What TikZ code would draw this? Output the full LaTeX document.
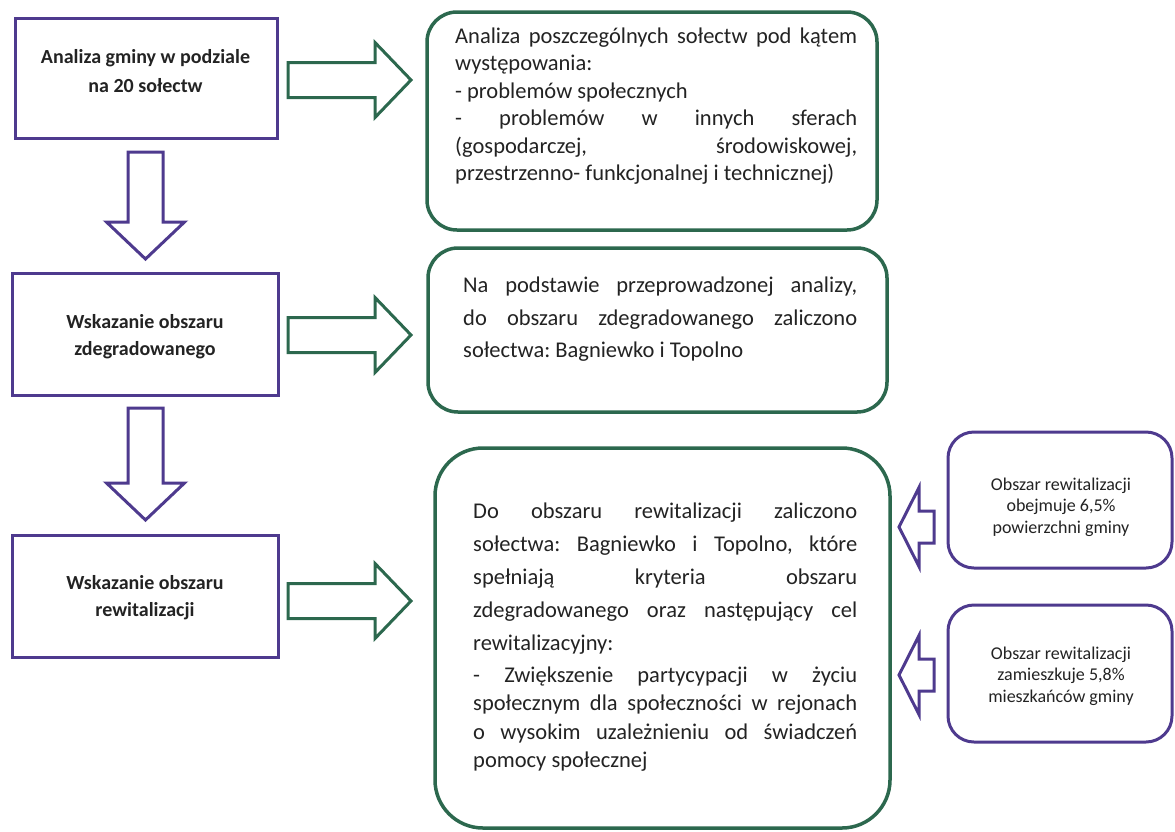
\documentclass[tikz,border=0pt]{standalone}
\usepackage{fontspec}
\setmainfont{Carlito}
\frenchspacing
\definecolor{purp}{RGB}{78,58,142}
\definecolor{grn}{RGB}{44,104,78}
\definecolor{txtc}{RGB}{35,35,35}
\newdimen\linew
\newcommand\JL[1]{\hbox to \linew{\spaceskip=\fontdimen2\font plus 1fil\relax #1}}
\newcommand\LL[1]{\hbox{#1}}
\newcommand\CL[1]{\hbox to \linew{\hfil#1\hfil}}
\begin{document}
\begin{tikzpicture}[x=1pt,y=-1pt,
  pbox/.style={draw=purp,line width=3pt,inner sep=0pt,fill=white},
  gbox/.style={draw=grn,line width=3.5pt,inner sep=0pt,fill=white},
  lefttxt/.style={inner sep=0pt,text=txtc,anchor=base,font={\bfseries\fontsize{20pt}{27.5pt}\selectfont}},
  gtxt/.style={inner sep=0pt,text=txtc,anchor=base west,font={\fontsize{22.5pt}{27.4pt}\selectfont}},
  ptxt/.style={inner sep=0pt,text=txtc,anchor=base,font={\fontsize{18pt}{21.5pt}\selectfont}},
  garrow/.style={draw=grn,line width=3pt,line join=miter,fill=white},
  parrow/.style={draw=purp,line width=3pt,line join=miter,fill=white},
  pics/rarrow/.style={code={\draw[garrow] (0,-17.5) -- (87,-17.5) -- (87,-37.5) -- (123,0) -- (87,37.5) -- (87,17.5) -- (0,17.5) -- cycle;}},
  pics/darrow/.style 2 args={code={\draw[parrow] (-17.5,0) -- (-17.5,#1) -- (-39,#1) -- (0,#2) -- (39,#1) -- (17.5,#1) -- (17.5,0) -- cycle;}},
  pics/larrow/.style={code={\draw[parrow] (35,-16) -- (20,-16) -- (20,-39.5) -- (0,0) -- (20,39.5) -- (20,16) -- (35,16) -- cycle;}}
]
\useasboundingbox (0,0) rectangle (1175,831);

% left column boxes
\node[pbox,minimum width=262pt,minimum height=120pt] (boxA) at (146,78) {};
\node[pbox,minimum width=266pt,minimum height=122pt] (boxB) at (145,334) {};
\node[pbox,minimum width=266pt,minimum height=122pt] (boxC) at (145,596) {};

\node[lefttxt] (tA) at (145.5,63.5) {\linew=250pt\vtop{\baselineskip=28.5pt\CL{Analiza gminy w podziale}\CL{na 20 sołectw}}};
\node[lefttxt] (tB) at (145,328) {\linew=250pt\vtop{\CL{Wskazanie obszaru}\CL{zdegradowanego}}};
\node[lefttxt] (tC) at (145,589) {\linew=250pt\vtop{\CL{Wskazanie obszaru}\CL{rewitalizacji}}};

% green boxes
\node[gbox,rounded corners=30pt,minimum width=450pt,minimum height=218pt] (g1) at (652,121) {};
\node[gbox,rounded corners=30pt,minimum width=459pt,minimum height=164pt] (g2) at (657.5,330) {};
\node[gbox,rounded corners=48pt,minimum width=455pt,minimum height=380pt] (g3) at (662.5,638) {};

\node[gtxt] (t1) at (455,43.5) {\linew=402pt\vtop{%
\JL{Analiza poszczególnych sołectw pod kątem}
\LL{występowania:}
\LL{- problemów społecznych}
\JL{- problemów w innych sferach}
\JL{(gospodarczej, środowiskowej,}
\LL{przestrzenno- funkcjonalnej i technicznej)}}};

\node[gtxt] (t2) at (463,292.5) {\linew=394pt\vtop{\baselineskip=32.5pt
\JL{Na podstawie przeprowadzonej analizy,}
\JL{do obszaru zdegradowanego zaliczono}
\LL{sołectwa: Bagniewko i Topolno}}};

\node[gtxt] (t3) at (473,518.5) {\linew=384pt\vtop{\baselineskip=33pt
\JL{Do obszaru rewitalizacji zaliczono}
\JL{sołectwa: Bagniewko i Topolno, które}
\JL{spełniają kryteria obszaru}
\JL{zdegradowanego oraz następujący cel}
\LL{rewitalizacyjny:}
\baselineskip=32pt
\JL{- Zwiększenie partycypacji w życiu}
\baselineskip=28.4pt
\JL{społecznym dla społeczności w rejonach}
\JL{o wysokim uzależnieniu od świadczeń}
\LL{pomocy społecznej}}};

% right purple boxes
\node[pbox,rounded corners=26pt,minimum width=224pt,minimum height=136pt] (p1) at (1060,500) {};
\node[pbox,rounded corners=26pt,minimum width=224pt,minimum height=137pt] (p2) at (1060,673.5) {};
\node[ptxt] (tp1) at (1061,490) {\linew=210pt\vtop{\CL{Obszar rewitalizacji}\CL{obejmuje 6,5\%}\CL{powierzchni gminy}}};
\node[ptxt] (tp2) at (1061,659) {\linew=210pt\vtop{\CL{Obszar rewitalizacji}\CL{zamieszkuje 5,8\%}\CL{mieszkańców gminy}}};

% block arrows
\pic at (288,80) {rarrow};
\pic at (288,335) {rarrow};
\pic at (288,601) {rarrow};
\pic at (145.5,152) {darrow={70}{107}};
\pic at (145.5,408) {darrow={75}{112}};
\pic at (899,527) {larrow};
\pic at (899,675) {larrow};
\end{tikzpicture}
\end{document}
